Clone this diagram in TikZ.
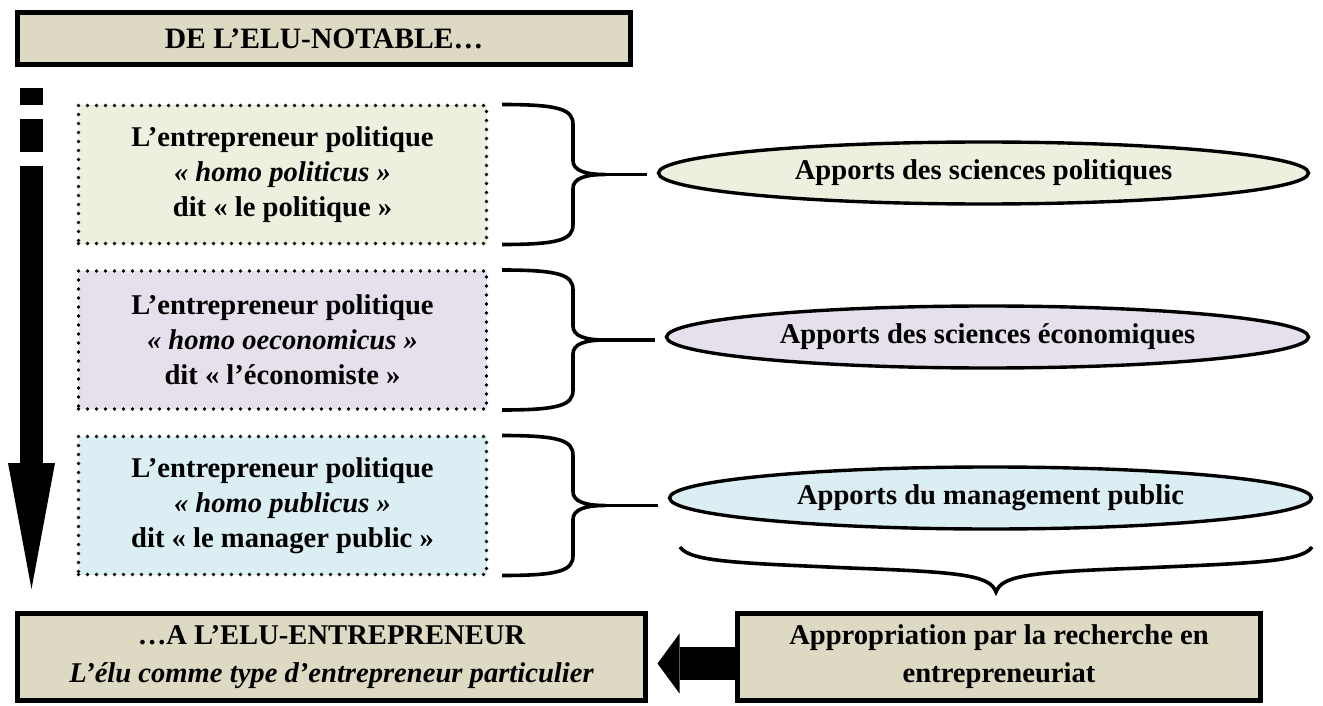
\documentclass[tikz,border=0pt]{standalone}
\usepackage{fontspec}
\setmainfont{Liberation Serif}
\usetikzlibrary{shapes.geometric,arrows.meta}

\definecolor{fondBeige}{HTML}{DDD9C3}
\definecolor{fondVert}{HTML}{EBF1DE}
\definecolor{fondMauve}{HTML}{E5E0EC}
\definecolor{fondBleu}{HTML}{DBEEF4}

\begin{document}
\begin{tikzpicture}[x=0.5pt, y=-0.5pt,
	every node/.style={font=\fontsize{14.3}{17.5}\selectfont\bfseries, align=center, inner sep=0pt},
	titre/.style={draw, line width=2.5pt, fill=fondBeige, minimum height=26pt},
	bas/.style={titre, minimum height=43.5pt, font=\fontsize{14.3}{19}\selectfont\bfseries},
	profil/.style={draw, line width=1.9pt, line cap=round, dash pattern=on 0pt off 4.5pt, minimum width=204pt, minimum height=69pt},
	apport/.style={draw, ellipse, line width=1.7pt, minimum height=31pt},
	accolade/.style={line width=1.8pt}]
	\useasboundingbox (0,0) rectangle (1323,706);
	% Titles
	\node[titre, minimum width=306.5pt, font=\fontsize{14.8}{17.5}\selectfont\bfseries] (notable) at (324,38.5) {DE L’ELU-NOTABLE…};
	\node[bas, minimum width=314pt] (entrepreneur) at (331.5,657) {…A L’ELU-ENTREPRENEUR\\ {\itshape L’élu comme type d’entrepreneur particulier}};
	\node[bas, minimum width=261.5pt] (recherche) at (999,657) {Appropriation par la recherche en\\ entrepreneuriat};
	% Time arrow
	\foreach \a/\b in {88/105, 119/152, 166/465} {
		\fill[black] (20,\a) rectangle (43,\b);
	}
	\fill[black] (8,463) -- (55,463) -- (31.5,589) -- cycle;
	% Profiles and braces
	\foreach \i/\yc/\col/\homo/\dit in {1/174.5/fondVert/politicus/le politique, 2/340/fondMauve/oeconomicus/l’économiste, 3/505.5/fondBleu/publicus/le manager public} {
		\node[profil, fill=\col] (profil\i) at (282.5,\yc) {L’entrepreneur politique\\ {\itshape «~homo \homo~»}\\ dit «~\dit~»};
		\coordinate (pointe\i) at (605,\yc);
		\draw[accolade] (502,\yc-70) .. controls (560,\yc-70) and (573,\yc-65) .. (573,\yc-50) -- (573,\yc-14)
			.. controls (573,\yc-4) and (585,\yc) .. (pointe\i)
			.. controls (585,\yc) and (573,\yc+4) .. (573,\yc+14) -- (573,\yc+50)
			.. controls (573,\yc+65) and (560,\yc+70) .. (502,\yc+70);
	}
	% Contributions
	\foreach \i/\xe/\ye/\w/\col/\txt in {1/983.5/173/325/fondVert/Apports des sciences politiques, 2/987.5/337/321/fondMauve/Apports des sciences économiques, 3/990.5/498/321/fondBleu/Apports du management public} {
		\node[apport, minimum width=\w pt, fill=\col] (apport\i) at (\xe,\ye) {\txt};
		\draw[accolade, shorten >=5pt] (pointe\i) -- (pointe\i -| apport\i.west);
	}
	% Bottom brace
	\draw[accolade] (680,547) .. controls (690,562) and (740,563) .. (850,568)
		.. controls (960,572) and (990,575) .. (996,592)
		.. controls (1002,575) and (1032,572) .. (1142,568)
		.. controls (1252,563) and (1302,562) .. (1312,547);
	% Block arrow
	\draw[line width=16.5pt, -{Triangle[length=11pt, width=30pt, line width=0pt]}] ([yshift=-3.25pt]recherche.west) -- ([xshift=4.75pt, yshift=-3.25pt]entrepreneur.east);
\end{tikzpicture}
\end{document}
